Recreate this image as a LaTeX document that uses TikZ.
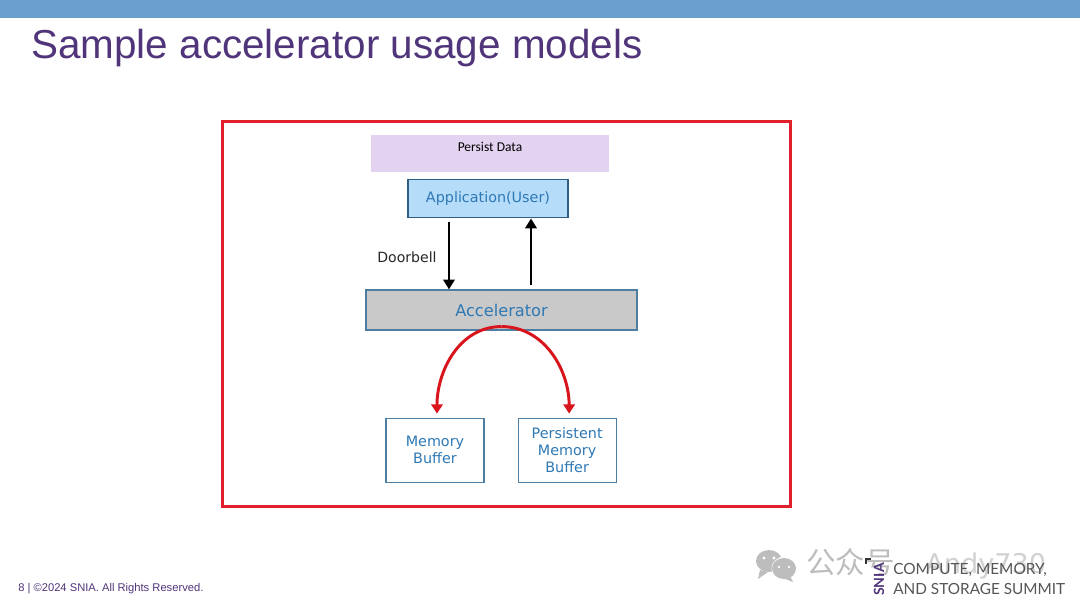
\documentclass[tikz,border=0pt]{standalone}
\usepackage{fontspec}
\setmainfont{Liberation Sans}
\newfontfamily\boxfont{DejaVu Sans}
\newfontfamily\notefont{Carlito}
\newfontfamily\logofont{Lato}
\newfontfamily\cjkfont{Noto Sans CJK SC}
\usetikzlibrary{positioning, arrows.meta, calc, shapes.geometric}
\definecolor{topbar}{HTML}{6A9FCE}
\definecolor{titletext}{HTML}{50357A}
\definecolor{framered}{HTML}{E0202A}
\definecolor{arcred}{HTML}{D8141C}
\definecolor{persistbg}{HTML}{E3D3F1}
\definecolor{appbg}{HTML}{B5DDFA}
\definecolor{appline}{HTML}{2F5F85}
\definecolor{accelbg}{HTML}{C9C9C9}
\definecolor{boxline}{HTML}{4E7FA3}
\definecolor{boxtext}{HTML}{2E78B4}
\definecolor{stamp}{HTML}{BDBDBD}
\definecolor{logotext}{HTML}{555555}

\begin{document}
\begin{tikzpicture}[
        x=0.025cm, y=-0.025cm,
        s/.style={rectangle, draw=boxline, text=boxtext, font=\boxfont\fontsize{10.2pt}{12pt}\selectfont,
                  align=center, inner sep=0pt, line width=0.8pt},
        blk/.style={-{Triangle[length=7pt,width=8pt]}, black, line width=2.1pt},
        red/.style={-{Triangle[length=6.5pt,width=8pt]}, arcred, line width=2.1pt}
      ]
        \useasboundingbox (0,0) rectangle (1080,608);
        \fill[white] (0,0) rectangle (1080,608);
        \fill[topbar] (0,0) rectangle (1080,18);
        \node[anchor=base west, inner sep=0pt, text=titletext, font=\fontsize{28.75pt}{34pt}\selectfont] (title) at (31,58) {Sample accelerator usage models};
        \node[anchor=base west, inner sep=0pt, text=titletext, font=\fontsize{7.95pt}{9pt}\selectfont] (footer) at (18,591) {8 | ©2024 SNIA. All Rights Reserved.};

        % main frame and boxes
        \node[rectangle, draw=framered, line width=2.1pt, minimum width=14.175cm, minimum height=9.625cm, inner sep=0pt] (frame) at (506.5,314) {};
        \node[rectangle, fill=persistbg, minimum width=5.95cm, minimum height=0.925cm, inner sep=0pt] (persist) at (490,153.5) {};
        \node[font=\notefont\fontsize{9.6pt}{11pt}\selectfont, inner sep=0pt] (persisttext) at ([yshift=0.17cm]persist.center) {Persist Data};
        \node[s, draw=appline, fill=appbg, minimum width=4cm, minimum height=0.95cm, below=0.175cm of persist, xshift=-0.05cm] (app) {Application(User)};
        \node[s, fill=accelbg, font=\boxfont\fontsize{11.5pt}{13pt}\selectfont, minimum width=6.775cm, minimum height=1cm, below=1.775cm of app, xshift=0.3375cm] (accel) {Accelerator};
        \node[s, minimum width=2.45cm, minimum height=1.6cm, below=2.175cm of accel, xshift=-1.6625cm] (mem) {Memory\\Buffer};
        \node[s, minimum width=2.45cm, minimum height=1.6cm, right=0.825cm of mem] (pmem) {Persistent\\Memory\\Buffer};
        \node[font=\boxfont\fontsize{10pt}{12pt}\selectfont, text=black!85, inner sep=0pt] (doorbell) at (407,257.5) {Doorbell};

        % arrows
        \draw[blk] ([xshift=-0.975cm,yshift=-0.1cm]app.south) -- ([xshift=-0.975cm]app.south |- accel.north);
        \draw[blk] ([xshift=1.075cm,yshift=0.1cm]app.south |- accel.north) -- ([xshift=1.075cm]app.south);
        \coordinate (archtop) at ([yshift=0.1cm]accel.south);
        \coordinate (memtip) at ([xshift=0.05cm,yshift=0.1cm]mem.north);
        \coordinate (pmemtip) at ([xshift=0.05cm,yshift=0.1cm]pmem.north);
        \draw[red] (archtop) to[out=180, in=90] (memtip);
        \draw[red] (archtop) to[out=0, in=90] (pmemtip);

        % stamp over the corner
        \fill[stamp] (769,561) ellipse (13 and 11);
        \fill[stamp] (760,570) -- (758,579) -- (768,572) -- cycle;
        \fill[white] (785,568.5) ellipse (13.5 and 12);
        \fill[stamp] (784,568.5) ellipse (12 and 10.5);
        \fill[stamp] (790,576) -- (793,582) -- (783,578) -- cycle;
        \fill[white] (764,558) circle (1.6) (774,558) circle (1.6) (779,567) circle (1.4) (789,567) circle (1.4);
        \node[anchor=base west, inner sep=0pt, text=stamp, font=\cjkfont\fontsize{21pt}{24pt}\selectfont] (stampcn) at (806,573) {公众号};
        \node[anchor=base west, inner sep=0pt, text=stamp!70, font=\boxfont\fontsize{19.3pt}{22pt}\selectfont] (stampname) at (925,573) {Andy730};

        % summit logo
        \node[anchor=base west, inner sep=0pt, text=logotext, font=\logofont\fontsize{10.95pt}{14pt}\selectfont] (logoa) at (893,574) {COMPUTE, MEMORY,};
        \node[anchor=base west, inner sep=0pt, text=logotext, font=\logofont\fontsize{10.9pt}{14pt}\selectfont] (logob) at (893,594) {AND STORAGE SUMMIT};
        \node[anchor=base west, rotate=90, inner sep=0pt, text=titletext, font=\logofont\bfseries\fontsize{10pt}{12pt}\selectfont] (logosnia) at (884,596) {SNIA};
        \draw[black!80, line width=0.9pt] (871,559) -- (866,559) -- (866,564);
      \end{tikzpicture}
\end{document}
